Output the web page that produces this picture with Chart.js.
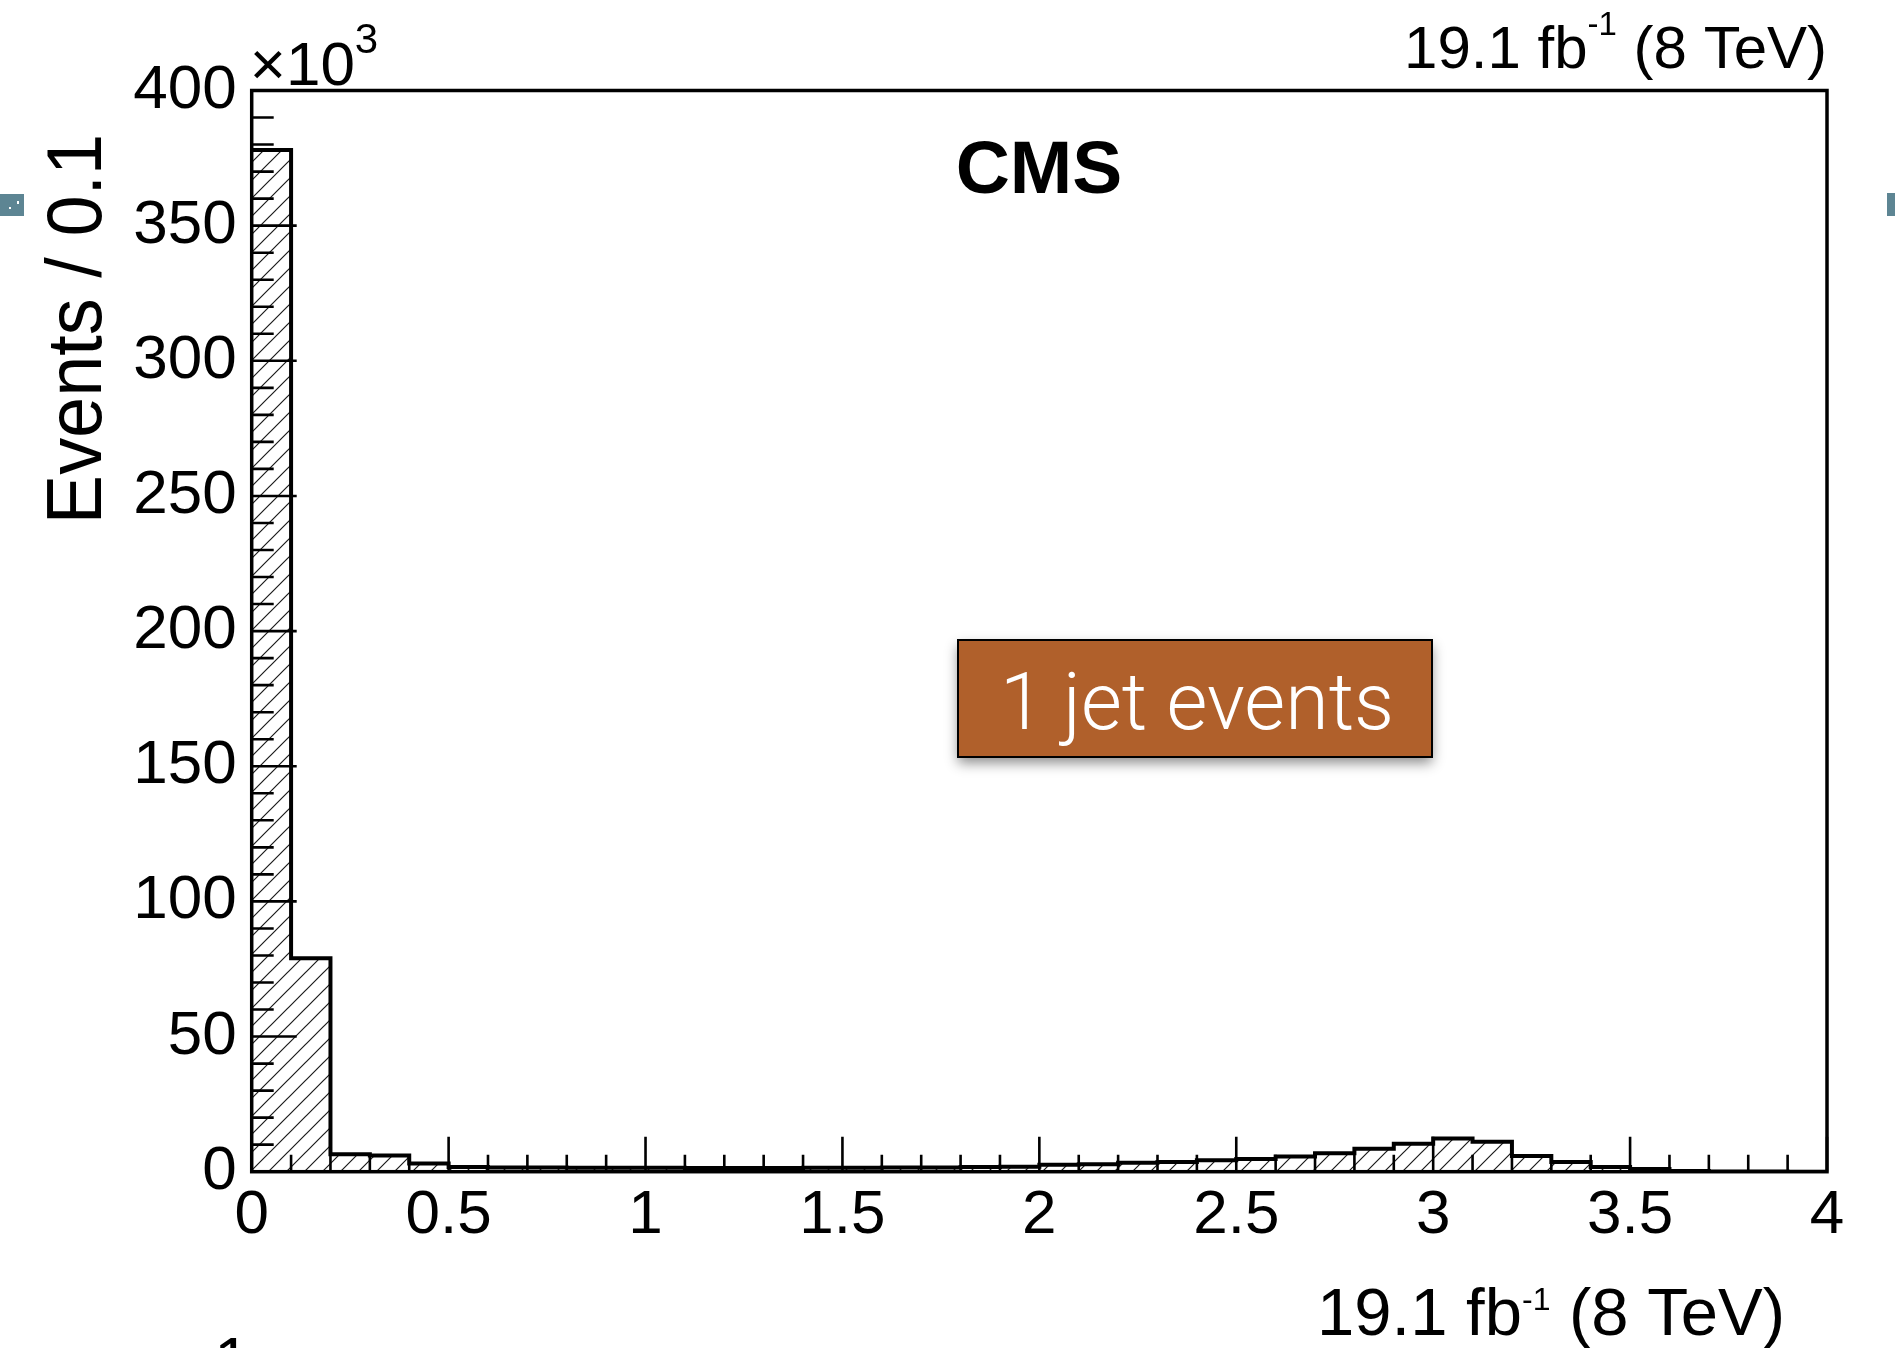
<!DOCTYPE html>
<html>
<head>
<meta charset="utf-8">
<title>Events / 0.1</title>
<script src="https://cdn.jsdelivr.net/npm/chart.js@4.4.1/dist/chart.umd.min.js"></script>
<style>
html, body { margin: 0; padding: 0; background: #fff; }
canvas { display: block; }
</style>
</head>
<body>
<canvas id="plotCanvas" width="1895" height="1348"></canvas>
<script>
// lower edge of each 0.1 wide bin
var binLow = [0.0, 0.1, 0.2, 0.3, 0.4, 0.5, 0.6, 0.7, 0.8, 0.9,
              1.0, 1.1, 1.2, 1.3, 1.4, 1.5, 1.6, 1.7, 1.8, 1.9,
              2.0, 2.1, 2.2, 2.3, 2.4, 2.5, 2.6, 2.7, 2.8, 2.9,
              3.0, 3.1, 3.2, 3.3, 3.4, 3.5, 3.6, 3.7, 3.8, 3.9];
var binWidth = 0.1;

// events per bin, x10^3
var eventsK = [378, 79, 6.5, 6.0, 3.0, 1.7, 1.6, 1.6, 1.5, 1.5,
               1.5, 1.4, 1.4, 1.4, 1.5, 1.5, 1.6, 1.6, 1.7, 1.8,
               2.6, 2.8, 3.3, 3.6, 4.2, 4.7, 5.6, 6.8, 8.5, 10.3,
               12.3, 11.1, 5.8, 3.6, 1.7, 1.0, 0.3, 0.1, 0.05, 0.02];

var xRange = [0, 4];
var yRange = [0, 400];
var xMajor = 0.5, xMinor = 0.1;
var yMajor = 50, yMinor = 10;

var FONT = '"Liberation Sans", Arial, Helvetica, sans-serif';

function makeHatch() {
    var size = 18;
    var c = document.createElement('canvas');
    c.width = size;
    c.height = size;
    var g = c.getContext('2d');
    g.strokeStyle = '#1a1a1a';
    g.lineWidth = 1.2;
    g.beginPath();
    g.moveTo(-1, size + 1); g.lineTo(size + 1, -1);
    g.moveTo(-2, 2); g.lineTo(2, -2);
    g.moveTo(size - 2, size + 2); g.lineTo(size + 2, size - 2);
    g.stroke();
    return g.createPattern(c, 'repeat');
}

// histogram as a stepped outline: one point per lower edge plus the last upper edge
function histPoints() {
    var pts = binLow.map(function (x, i) { return { x: x, y: eventsK[i] }; });
    var last = binLow.length - 1;
    pts.push({ x: binLow[last] + binWidth, y: eventsK[last] });
    return pts;
}

function drawSupText(ctx, parts, right, baseline) {
    // parts: [text, size, baseline offset]
    var total = 0;
    parts.forEach(function (p) {
        ctx.font = p[1] + 'px ' + FONT;
        p.w = ctx.measureText(p[0]).width;
        total += p.w;
    });
    var x = right - total;
    ctx.textAlign = 'left';
    ctx.textBaseline = 'alphabetic';
    parts.forEach(function (p) {
        ctx.font = p[1] + 'px ' + FONT;
        ctx.fillText(p[0], x, baseline + p[2]);
        x += p.w;
    });
}

// inward ROOT-style ticks, frame and the text labels
var rootStyle = {
    id: 'rootStyle',
    afterDatasetsDraw: function (chart) {
        var ctx = chart.ctx;
        var a = chart.chartArea;
        var xs = chart.scales.x, ys = chart.scales.y;
        ctx.save();
        ctx.strokeStyle = '#000';
        ctx.lineWidth = 2.6;
        ctx.beginPath();
        var nx = Math.round((xRange[1] - xRange[0]) / xMinor);
        var perX = Math.round(xMajor / xMinor);
        for (var k = 0; k <= nx; k++) {
            var px = xs.getPixelForValue(xRange[0] + k * xMinor);
            var lx = (k % perX === 0) ? 35 : 17;
            ctx.moveTo(px, a.bottom);
            ctx.lineTo(px, a.bottom - lx);
        }
        var ny = Math.round((yRange[1] - yRange[0]) / yMinor);
        var perY = Math.round(yMajor / yMinor);
        for (var j = 0; j <= ny; j++) {
            var py = ys.getPixelForValue(yRange[0] + j * yMinor);
            var ly = (j % perY === 0) ? 45 : 22;
            ctx.moveTo(a.left, py);
            ctx.lineTo(a.left + ly, py);
        }
        ctx.stroke();
        ctx.lineWidth = 3.5;
        ctx.strokeRect(a.left, a.top, a.right - a.left, a.bottom - a.top);
        ctx.restore();
    },
    afterDraw: function (chart) {
        var ctx = chart.ctx;
        var a = chart.chartArea;
        ctx.save();
        ctx.fillStyle = '#000';

        // exponent of the y axis
        ctx.textAlign = 'left';
        ctx.textBaseline = 'alphabetic';
        ctx.font = '62px ' + FONT;
        ctx.fillText('\u00d710', a.left - 2, 85);
        var w = ctx.measureText('\u00d710').width;
        ctx.font = '42px ' + FONT;
        ctx.fillText('3', a.left - 2 + w, 53);

        // luminosity labels
        drawSupText(ctx, [['19.1 fb', 60, 0], ['-1', 33, -33], [' (8 TeV)', 60, 0]], a.right, 68);
        drawSupText(ctx, [['19.1 fb', 67, 0], ['-1', 32, -25], [' (8 TeV)', 67, 0]], 1785, 1335);

        // CMS
        ctx.font = 'bold 75px ' + FONT;
        ctx.textAlign = 'center';
        ctx.fillText('CMS', 1039, 193);

        // y axis title
        ctx.save();
        ctx.translate(101, 329);
        ctx.rotate(-Math.PI / 2);
        ctx.scale(0.96, 1);
        ctx.font = '77px ' + FONT;
        ctx.textAlign = 'center';
        ctx.fillText('Events / 0.1', 0, 0);
        ctx.restore();

        // category box
        var bx = 958, by = 640, bw = 474, bh = 117;
        ctx.save();
        ctx.shadowColor = 'rgba(0,0,0,0.45)';
        ctx.shadowBlur = 12;
        ctx.shadowOffsetY = 6;
        ctx.fillStyle = '#b0602b';
        ctx.fillRect(bx, by, bw, bh);
        ctx.restore();
        ctx.lineWidth = 2;
        ctx.strokeStyle = '#000';
        ctx.strokeRect(bx, by, bw, bh);
        ctx.fillStyle = '#fff';
        ctx.font = '300 79px Roboto, "Open Sans", sans-serif';
        ctx.textAlign = 'center';
        ctx.fillText('1 jet events', 1197, 729);

        // clipped digit at the lower edge
        ctx.fillStyle = '#000';
        ctx.font = '65px ' + FONT;
        ctx.textAlign = 'left';
        ctx.fillText('1', 214, 1383);

        // small scan marks at the page edges
        ctx.fillStyle = '#5d8593';
        ctx.fillRect(0, 194, 24, 22);
        ctx.fillRect(1887, 193, 8, 23);
        ctx.fillStyle = '#fff';
        ctx.fillRect(9, 207, 2, 2);
        ctx.fillRect(17, 201, 2, 3);
        ctx.restore();
    }
};

var canvas = document.getElementById('plotCanvas');
var ctx = canvas.getContext('2d');

Chart.defaults.font.family = FONT;
Chart.defaults.color = '#000';

var chart = new Chart(ctx, {
    type: 'line',
    data: {
        datasets: [{
            label: 'Events',
            data: histPoints(),
            stepped: true,
            fill: 'origin',
            backgroundColor: makeHatch(),
            borderColor: '#000',
            borderWidth: 4,
            pointRadius: 0,
            tension: 0
        }]
    },
    options: {
        responsive: false,
        animation: false,
        layout: { padding: { top: 90.5, right: 68, bottom: 0, left: 0 } },
        plugins: {
            legend: { display: false },
            tooltip: { enabled: false }
        },
        scales: {
            x: {
                type: 'linear',
                min: xRange[0],
                max: xRange[1],
                grid: { display: false, drawTicks: false },
                border: { display: false },
                ticks: {
                    stepSize: xMajor, padding: 7, autoSkip: false, maxRotation: 0,
                    font: { size: 62 }, color: '#000',
                    callback: function (v) { return String(Number(v.toFixed(2))); }
                },
                afterFit: function (scale) { scale.height = 176.3; }
            },
            y: {
                type: 'linear',
                min: yRange[0],
                max: yRange[1],
                grid: { display: false, drawTicks: false },
                border: { display: false },
                ticks: { stepSize: yMajor, padding: 15, autoSkip: false, font: { size: 62 }, color: '#000' },
                afterFit: function (scale) { scale.width = 251.7; }
            }
        }
    },
    plugins: [rootStyle]
});
</script>
</body>
</html>
